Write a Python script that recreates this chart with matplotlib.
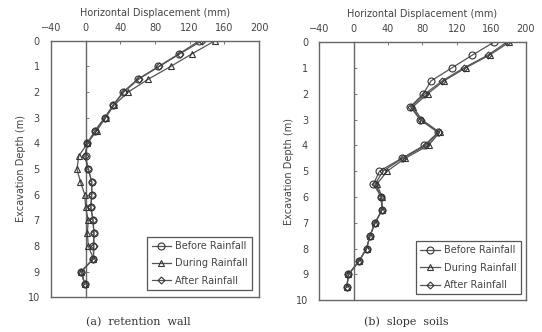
import matplotlib
matplotlib.use("Agg")
import matplotlib.pyplot as plt

depth = [0, 0.5, 1, 1.5, 2, 2.5, 3, 3.5, 4, 4.5, 5, 5.5, 6, 6.5, 7, 7.5, 8, 8.5, 9, 9.5]

a_before = [131, 108, 84, 60, 43, 32, 22, 11, 2, 0, 3, 7, 7, 6, 8.5, 9.5, 9, 9, -5, -1]
a_during = [149, 123, 98, 72, 49, 33, 23, 13, 2, -8, -10, -6, -1, 0, 3, 2, 3, 9, -5, -1]
a_after = [134, 109, 85, 61, 44, 32, 22, 11, 2, -1, 3, 7, 7, 6, 8.5, 9.5, 9.5, 9, -5, -1]

b_before = [163, 138, 114, 90, 81, 66, 77, 98, 82, 56, 30, 23, 32, 33, 25, 19, 15, 6, -6, -8]
b_during = [181, 158, 130, 105, 86, 69, 79, 100, 87, 60, 39, 27, 33, 33, 25, 19, 15, 6, -6, -8]
b_after = [178, 156, 128, 103, 83, 67, 78, 99, 84, 57, 34, 25, 32, 33, 25, 19, 15, 6, -6, -8]

labels = ["Before Rainfall", "During Rainfall", "After Rainfall"]
markers = ["o", "^", "D"]
msizes = [5, 5, 3.5]
xticks = [-40, 0, 40, 80, 120, 160, 200]
yticks = list(range(0, 11))
captions = ["(a)  retention  wall", "(b)  slope  soils"]

txt = "#444444"
fig = plt.figure(figsize=(5.42, 3.32), dpi=100)
rects = [[0.094, 0.105, 0.384, 0.772], [0.589, 0.096, 0.381, 0.777]]
cap_x = [0.255, 0.749]
data = [(a_before, a_during, a_after), (b_before, b_during, b_after)]
leg_anchor = [(0.975, 0.02), (0.985, 0.015)]

for i, rect in enumerate(rects):
    ax = fig.add_axes(rect)
    for series, lab, m, ms in zip(data[i], labels, markers, msizes):
        ax.plot(series, depth, color="#555555", lw=0.9, marker=m, ms=ms,
                mfc="none", mec="#333333", mew=0.8, label=lab)
    ax.set_xlim(-40, 200)
    ax.set_ylim(10, 0)
    ax.xaxis.tick_top()
    ax.xaxis.set_label_position("top")
    ax.set_xticks(xticks)
    ax.set_yticks(yticks)
    ax.tick_params(axis="x", direction="in", length=2.5, width=0.6, colors="#666666",
                   labelcolor=txt, labelsize=7, pad=6)
    ax.tick_params(axis="y", length=0, labelcolor=txt, labelsize=7, pad=8)
    for s in ax.spines.values():
        s.set_color("#666666")
        s.set_linewidth(1.0)
    ax.set_xlabel("Horizontal Displacement (mm)", fontsize=7, color=txt, labelpad=5)
    ax.set_ylabel("Excavation Depth (m)", fontsize=7, color=txt, labelpad=1)
    # zero line with ticks
    ax2 = ax.twinx()
    ax2.set_ylim(10, 0)
    ax2.set_yticks(yticks)
    ax2.spines["right"].set_position(("data", 0))
    ax2.spines["right"].set_color("#666666")
    ax2.spines["right"].set_linewidth(1.0)
    for k in ["left", "top", "bottom"]:
        ax2.spines[k].set_visible(False)
    ax2.tick_params(axis="y", direction="out", length=2.5, width=0.6, colors="#666666",
                    labelright=False)
    leg = ax.legend(loc="lower right", bbox_to_anchor=leg_anchor[i], fontsize=7,
                    fancybox=False, framealpha=1, edgecolor="#555555",
                    handlelength=2.0, labelspacing=0.75, borderpad=0.45,
                    handletextpad=0.4, borderaxespad=0.2)
    leg.get_frame().set_linewidth(0.9)
    for t in leg.get_texts():
        t.set_color(txt)
    ax.set_zorder(ax2.get_zorder() + 1)
    ax.patch.set_visible(False)
    fig.text(cap_x[i], 0.03, captions[i], ha="center", va="center", fontsize=8,
             family="DejaVu Serif", color="#333333")

fig.savefig("out.png", dpi=100)
